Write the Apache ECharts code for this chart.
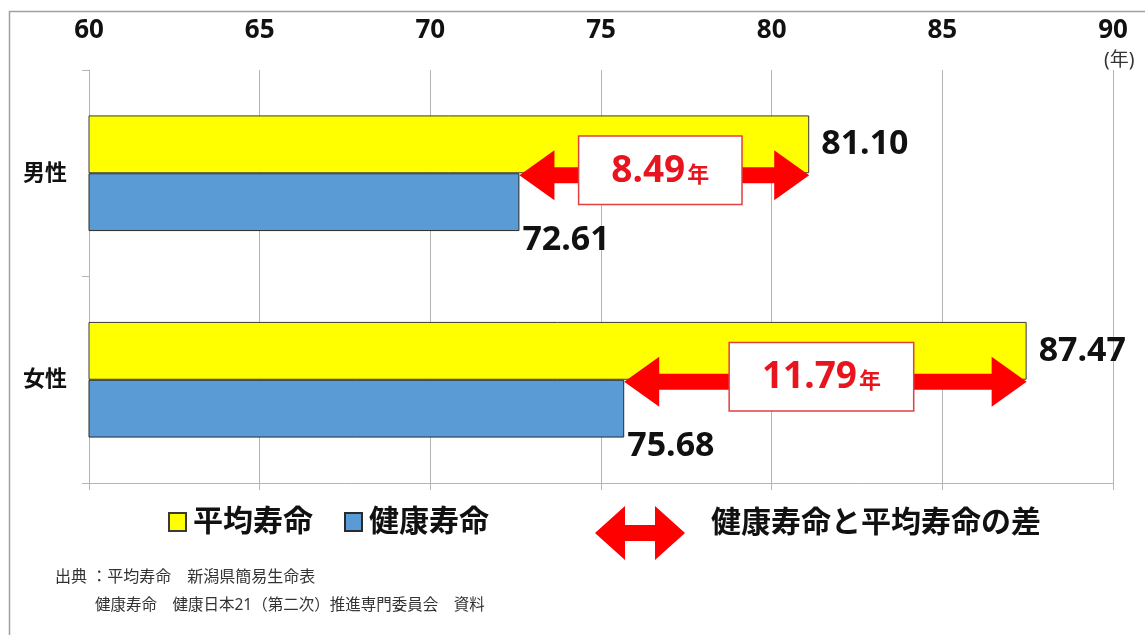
<!DOCTYPE html>
<html>
<head>
<meta charset="utf-8">
<script src="https://cdn.jsdelivr.net/npm/echarts@6/dist/echarts.min.js"></script>
<style>
  html, body { margin: 0; padding: 0; background: #fff; }
  #chart { width: 1145px; height: 635px; }
</style>
</head>
<body>
<div id="chart"></div>
<script>
// 平均寿命と健康寿命（新潟県）
const categories = ['男性', '女性']
const avgLife = [81.10, 87.47]      // 平均寿命
const healthyLife = [72.61, 75.68]  // 健康寿命
const xTicks = [60, 90, 5]          // min, max, interval

const FONT = "'Noto Sans', 'Noto Sans CJK JP', sans-serif"
const GRID_GRAY = '#B4B4B4'
const RED = '#FF0000'

// 差の矢印: [カテゴリ, 健康寿命, 平均寿命]
const gapData = categories.map((c, i) => [i, healthyLife[i], avgLife[i]])

function renderGap(params, api) {
  const p1 = api.coord([api.value(1), api.value(0)])
  const p2 = api.coord([api.value(2), api.value(0)])
  const y = p1[1] + 2
  const x1 = p1[0], x2 = p2[0]
  const t = 8, H = 25, L = 35
  const pts = [
    [x1, y], [x1 + L, y - H], [x1 + L, y - t], [x2 - L, y - t], [x2 - L, y - H],
    [x2, y], [x2 - L, y + H], [x2 - L, y + t], [x1 + L, y + t], [x1 + L, y + H]
  ]
  const gap = (api.value(2) - api.value(1)).toFixed(2)
  return {
    type: 'group',
    children: [
      { type: 'polygon', shape: { points: pts }, style: { fill: RED } },
      {
        type: 'text',
        x: (x1 + x2) / 2 - 4,
        y: y - 5,
        style: {
          text: '{a|' + gap + '}{b|年}',
          align: 'center',
          verticalAlign: 'middle',
          backgroundColor: '#fff',
          borderColor: '#E04040',
          borderWidth: 1.5,
          padding: [16, 32, 14, 32],
          rich: {
            a: { fontSize: 37, fontWeight: 'bold', fill: '#E8141E', fontFamily: FONT },
            b: { fontSize: 22, fontWeight: 'bold', fill: '#E8141E', fontFamily: FONT, padding: [8, 0, 0, 2] }
          }
        }
      }
    ]
  }
}

const chart = echarts.init(document.getElementById('chart'))

const option = {
  animation: false,
  backgroundColor: '#fff',
  textStyle: { fontFamily: FONT },
  grid: { left: 89, right: 32, top: 70, bottom: 152 },
  legend: {
    data: ['平均寿命', '健康寿命'],
    left: 163,
    top: 502,
    icon: 'rect',
    itemWidth: 17,
    itemHeight: 18,
    itemGap: 31,
    textStyle: { fontSize: 30, fontWeight: 'bold', color: '#111', padding: [0, 0, 0, 2] }
  },
  xAxis: [
    {
      type: 'value',
      position: 'top',
      min: xTicks[0],
      max: xTicks[1],
      interval: xTicks[2],
      axisLine: { show: false },
      axisTick: { show: false },
      axisLabel: { fontSize: 26, fontWeight: 'bold', color: '#111', margin: 26, lineHeight: 26 },
      splitLine: { show: true, lineStyle: { color: GRID_GRAY, width: 1 } },
      name: '(年)',
      nameLocation: 'end',
      nameGap: -9,
      nameTextStyle: { fontSize: 19, color: '#333', align: 'left', verticalAlign: 'bottom', padding: [0, 0, 0, 0] }
    },
    {
      type: 'value',
      position: 'bottom',
      min: xTicks[0],
      max: xTicks[1],
      interval: xTicks[2],
      axisLine: { show: true, lineStyle: { color: GRID_GRAY, width: 1 } },
      axisTick: { show: true, length: 7, lineStyle: { color: GRID_GRAY } },
      axisLabel: { show: false },
      splitLine: { show: false }
    }
  ],
  yAxis: {
    type: 'category',
    inverse: true,
    data: categories,
    axisLine: { show: true, lineStyle: { color: GRID_GRAY, width: 1 } },
    axisTick: { show: true, length: 7, lineStyle: { color: GRID_GRAY } },
    axisLabel: { fontSize: 22, fontWeight: 'bold', color: '#111', margin: 22 }
  },
  series: [
    {
      name: '平均寿命',
      type: 'bar',
      data: avgLife,
      barGap: 0,
      barCategoryGap: '44%',
      itemStyle: { color: '#FFFF00', borderColor: '#3A3A3A', borderWidth: 1 },
      label: {
        show: true,
        position: 'right',
        distance: 12,
        fontSize: 34,
        fontWeight: 'bold',
        color: '#111',
        formatter: p => p.value.toFixed(2)
      }
    },
    {
      name: '健康寿命',
      type: 'bar',
      data: healthyLife,
      barGap: 0,
      barCategoryGap: '44%',
      itemStyle: { color: '#5B9BD5', borderColor: '#2A2A2A', borderWidth: 1 },
      label: {
        show: true,
        position: 'right',
        distance: 3,
        offset: [0, 38],
        fontSize: 34,
        fontWeight: 'bold',
        color: '#111',
        formatter: p => p.value.toFixed(2)
      }
    },
    {
      name: '差',
      type: 'custom',
      data: gapData,
      encode: { x: [1, 2], y: 0 },
      renderItem: renderGap,
      z: 10,
      silent: true
    }
  ],
  graphic: [
    // 外枠
    {
      type: 'rect',
      left: 7, top: 9,
      shape: { width: 1300, height: 800 },
      style: { fill: 'none', stroke: '#A0A0A0', lineWidth: 1.5 },
      z: -1
    },
    // 差の凡例
    {
      type: 'polygon',
      x: 640, y: 533,
      shape: {
        points: [[-45, 0], [-15, -27], [-15, -8], [15, -8], [15, -27], [45, 0], [15, 27], [15, 8], [-15, 8], [-15, 27]]
      },
      style: { fill: RED }
    },
    {
      type: 'text',
      left: 711, top: 508,
      style: { text: '健康寿命と平均寿命の差', fontSize: 30, fontWeight: 'bold', fill: '#111', fontFamily: FONT }
    },
    // 出典
    {
      type: 'text',
      left: 55, top: 569,
      style: { text: '出典 ：平均寿命　新潟県簡易生命表', fontSize: 16, fill: '#333', fontFamily: FONT }
    },
    {
      type: 'text',
      left: 95, top: 598,
      style: { text: '健康寿命　健康日本21（第二次）推進専門委員会　資料', fontSize: 15.5, fill: '#333', fontFamily: FONT }
    }
  ]
}

chart.setOption(option)
</script>
</body>
</html>
